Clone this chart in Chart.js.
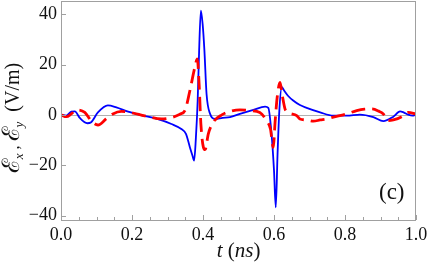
<!DOCTYPE html>
<html>
<head>
<meta charset="utf-8">
<script src="https://cdn.jsdelivr.net/npm/chart.js@4.4.1/dist/chart.umd.min.js"></script>
<style>
  html, body { margin: 0; padding: 0; background: #fff; }
  #wrap { width: 428px; height: 271px; position: relative; }
</style>
</head>
<body>
<div id="wrap"><canvas id="fieldChart"></canvas></div>
<script>
// time (ns) and field (V/m)
const tBlue = [0, 0.015, 0.029, 0.039, 0.053, 0.074, 0.085, 0.104, 0.132, 0.156,
    0.189, 0.226, 0.273, 0.311, 0.339, 0.352, 0.363, 0.37, 0.375, 0.38,
    0.385, 0.389, 0.394, 0.399, 0.404, 0.41, 0.42, 0.434, 0.455, 0.476,
    0.504, 0.542, 0.575, 0.584, 0.593, 0.6, 0.605, 0.61, 0.615, 0.622,
    0.628, 0.64, 0.654, 0.673, 0.692, 0.73, 0.767, 0.805, 0.842, 0.88,
    0.908, 0.936, 0.955, 0.965, 0.978, 0.99, 1.0];
const eBlue = [0, -0.3, 1.3, 1.4, -1.2, -3.3, -2.9, 1.0, 3.8, 3.0,
    1.3, -0.1, -1.7, -3.6, -5.6, -7.5, -12.8, -16, -18.1, -9,
    5.7, 25, 41.4, 36, 25.5, 8.3, 0.4, -1.6, -1.2, -0.9,
    0.4, 2.0, 3.3, 2.8, -7.4, -22, -36.7, -15.5, 1.7, 11,
    9.8, 7.5, 5.7, 3.9, 2.8, 1.0, -0.3, -0.3, 0.1, -0.9,
    -2.5, -0.7, 1.4, 1.0, 0.1, -0.3, 0.1];

const tRed = [0, 0.015, 0.029, 0.043, 0.067, 0.085, 0.104, 0.127, 0.146, 0.17,
    0.198, 0.236, 0.283, 0.315, 0.335, 0.349, 0.363, 0.377, 0.384, 0.389,
    0.394, 0.401, 0.406, 0.415, 0.429, 0.453, 0.48, 0.504, 0.532, 0.56,
    0.579, 0.59, 0.598, 0.603, 0.609, 0.617, 0.623, 0.631, 0.64, 0.664,
    0.673, 0.692, 0.711, 0.73, 0.748, 0.767, 0.805, 0.833, 0.855, 0.875,
    0.895, 0.908, 0.922, 0.936, 0.96, 0.978, 1.0];
const eRed = [0, -0.7, 0.4, 2.0, 1.0, -2.3, -4.0, -1.6, 0.4, 1.4,
    0.9, -0.4, -1.6, -0.9, 0.3, 1.7, 9.6, 18.9, 22.2, 12.4,
    -3.5, -12.8, -13.8, -7.5, -2.9, 0, 1.5, 2.0, 1.7, 1.0,
    -2.3, -5.6, -12.9, -3, 7, 12.9, 8, 2.4, 1.0, -0.3,
    -1.6, -2.0, -2.5, -2.0, -1.6, -0.9, 0.4, 1.7, 2.3, 2.4,
    1.5, 0.4, -2.3, -2.0, -0.7, 1.0, 0.4];

const xTicks = [0, 0.2, 0.4, 0.6, 0.8, 1.0];
const yTicks = [-40, -20, 0, 20, 40];
const panelLabel = "(c)";

const serif = "Liberation Serif";
const frameColor = "#a0a0a0";

function toPoints(xs, ys) {
    return xs.map((x, i) => ({ x: x, y: ys[i] }));
}

// draws a row of text pieces with their own fonts and baseline shifts
function drawRuns(ctx, runs, x, y) {
    let w = 0;
    runs.forEach(r => { ctx.font = r[1]; w += ctx.measureText(r[0]).width; });
    let cx = x - w / 2;
    runs.forEach(r => {
        ctx.font = r[1];
        ctx.fillText(r[0], cx, y + r[2]);
        cx += ctx.measureText(r[0]).width;
    });
}

const framePlugin = {
    id: "frame",
    beforeDatasetsDraw(chart) {
        const { ctx, chartArea: a, scales } = chart;
        const y0 = Math.round(scales.y.getPixelForValue(0)) + 0.5;
        ctx.save();
        ctx.strokeStyle = "#b0b0b0";
        ctx.lineWidth = 1;
        ctx.beginPath();
        ctx.moveTo(a.left, y0);
        ctx.lineTo(a.right, y0);
        ctx.stroke();
        ctx.restore();
    },
    afterDraw(chart) {
        const { ctx, chartArea: a, scales } = chart;
        ctx.save();
        ctx.strokeStyle = frameColor;
        ctx.lineWidth = 1;
        ctx.strokeRect(a.left + 0.5, a.top + 0.5, a.right - a.left - 1, a.bottom - a.top);

        // inward ticks
        ctx.beginPath();
        yTicks.forEach(v => {
            const py = Math.round(scales.y.getPixelForValue(v)) + 0.5;
            ctx.moveTo(a.left, py);
            ctx.lineTo(a.left + 5, py);
        });
        for (let i = 0; i <= 20; i++) {
            const px = Math.round(scales.x.getPixelForValue(i * 0.05)) + 0.5;
            const len = i % 4 === 0 ? 5 : 3;
            ctx.moveTo(px, a.bottom);
            ctx.lineTo(px, a.bottom - len);
        }
        ctx.stroke();

        ctx.fillStyle = "#111";
        ctx.textBaseline = "alphabetic";

        // x title
        drawRuns(ctx, [
            ["t", "italic 21px " + serif, 0],
            [" (", "21px " + serif, 0],
            ["ns", "italic 21px " + serif, 0],
            [")", "21px " + serif, 0]
        ], (a.left + a.right) / 2, 257);

        // y title, rotated
        ctx.save();
        ctx.translate(19, 118);
        ctx.rotate(-Math.PI / 2);
        drawRuns(ctx, [
            ["\u2130", "24px " + serif, 0],
            ["x", "italic 13px " + serif, 4],
            [" , ", "16px " + serif, 0],
            ["\u2130", "24px " + serif, 0],
            ["y", "italic 13px " + serif, 4],
            ["  (V/m)", "20px " + serif, 0]
        ], 0, 0);
        ctx.restore();

        ctx.font = "23px " + serif;
        ctx.textAlign = "left";
        ctx.fillText(panelLabel, 379, 199);
        ctx.restore();
    }
};

const ctx = document.getElementById("fieldChart").getContext("2d");
const fieldChart = new Chart(ctx, {
    type: "line",
    data: {
        datasets: [{
            label: "Ex",
            data: toPoints(tBlue, eBlue),
            borderColor: "#0000ff",
            borderWidth: 1.8,
            pointRadius: 0,
            cubicInterpolationMode: "monotone",
            order: 2
        }, {
            label: "Ey",
            data: toPoints(tRed, eRed),
            borderColor: "#ff0000",
            borderWidth: 2.8,
            borderDash: [14, 7],
            pointRadius: 0,
            cubicInterpolationMode: "monotone",
            order: 1
        }]
    },
    options: {
        responsive: true,
        maintainAspectRatio: false,
        animation: false,
        layout: { padding: { top: 1, right: 12, left: 0, bottom: 0 } },
        plugins: {
            legend: { display: false },
            tooltip: { enabled: false }
        },
        scales: {
            x: {
                type: "linear",
                min: 0,
                max: 1,
                grid: { display: false, drawTicks: false },
                border: { display: false },
                ticks: {
                    font: { family: serif, size: 18 },
                    color: "#111",
                    padding: 4,
                    maxRotation: 0,
                    callback: v => v.toFixed(1)
                },
                afterBuildTicks: scale => { scale.ticks = xTicks.map(v => ({ value: v })); },
                afterFit: scale => {
                    scale.height = 51;
                    scale.paddingLeft = 0;
                    scale.paddingRight = 0;
                }
            },
            y: {
                min: -41.7,
                max: 45.2,
                grid: { display: false, drawTicks: false },
                border: { display: false },
                ticks: {
                    font: { family: serif, size: 18 },
                    color: "#111",
                    padding: 4,
                    callback: v => v < 0 ? "\u2212" + Math.abs(v) : String(v)
                },
                afterBuildTicks: scale => { scale.ticks = yTicks.map(v => ({ value: v })); },
                afterFit: scale => {
                    scale.width = 61;
                    scale.paddingTop = 0;
                    scale.paddingBottom = 0;
                }
            }
        }
    },
    plugins: [framePlugin]
});
</script>
</body>
</html>
